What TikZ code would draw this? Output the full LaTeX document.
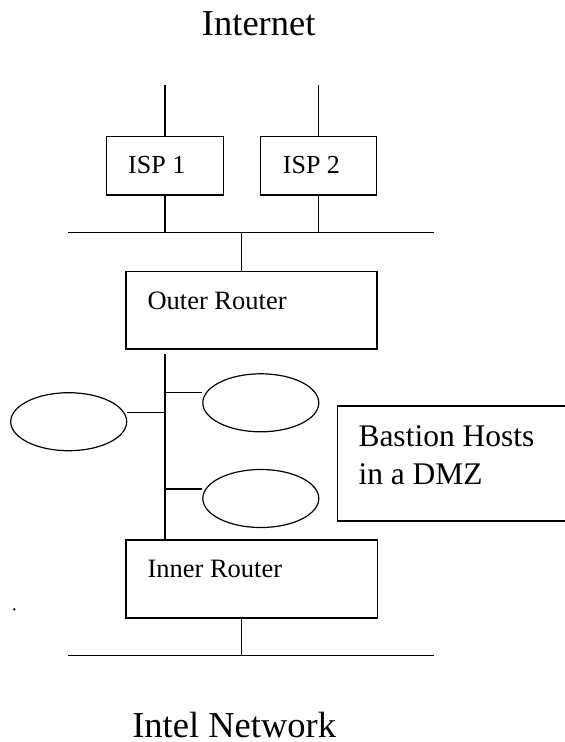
\documentclass[tikz,border=0pt]{standalone}
\usepackage{fontspec}
\setmainfont{Liberation Serif}
\usetikzlibrary{shapes.geometric}
\begin{document}
\begin{tikzpicture}[x=1pt,y=-1pt,
  wire/.style={line width=1.2pt},
  boxnode/.style={draw,line width=1.2pt,rectangle,inner sep=0pt},
  hostnode/.style={draw,line width=1.2pt,ellipse,inner sep=0pt,minimum width=116pt,minimum height=58pt},
  lbl/.style={anchor=base west,inner sep=0pt},
  title/.style={anchor=base,inner sep=0pt,text depth=0pt,font=\fontsize{36.5}{40}\selectfont}]
\useasboundingbox (0,0) rectangle (565,742);

% titles
\node[title] (internet) at (258.7,35) {Internet};
\node[title] (intel) at (234.2,737.5) {Intel Network};

% boxes
\node[boxnode,minimum width=116.6pt,minimum height=58.3pt] (isp1) at (165,165.85) {};
\node[boxnode,minimum width=116pt,minimum height=58.3pt] (isp2) at (318.7,165.85) {};
\node[boxnode,minimum width=251pt,minimum height=77.3pt] (outer) at (251.5,310.35) {};
\node[boxnode,minimum width=251.3pt,minimum height=78pt] (inner) at (251.6,579) {};
\node[boxnode,minimum width=229.7pt,minimum height=115pt] (bastion) at (452.15,463.5) {};

% labels
\node[lbl,font=\fontsize{26}{30}\selectfont] (l1) at (128,173) {ISP 1};
\node[lbl,font=\fontsize{26}{30}\selectfont] (l2) at (282.7,173) {ISP 2};
\node[lbl,font=\fontsize{26.5}{30}\selectfont] (lo) at (147.3,309.3) {Outer Router};
\node[lbl,font=\fontsize{26.5}{30}\selectfont] (li) at (147.3,577.3) {Inner Router};
\node[lbl,font=\fontsize{31.5}{36}\selectfont] (lb1) at (358.3,446.7) {Bastion Hosts};
\node[lbl,font=\fontsize{31.5}{36}\selectfont] (lb2) at (358.3,484) {in a DMZ};

% hosts
\node[hostnode] (e1) at (68.7,421.7) {};
\node[hostnode] (e2) at (260.8,402.8) {};
\node[hostnode] (e3) at (260.8,498.5) {};

% coordinates
\coordinate (t1) at (165,85);
\coordinate (t2) at (318.3,85);
\coordinate (busAL) at (68.3,232.7);
\coordinate (busAR) at (434,232.7);
\coordinate (oA) at (241.7,232.7);
\coordinate (sTop) at (165,354.3);
\coordinate (j1) at (165,412.3);
\coordinate (j2) at (165,392.7);
\coordinate (j3) at (165,489);
\coordinate (iB) at (241.7,618);
\coordinate (busBL) at (68.3,655.7);
\coordinate (busBR) at (434.3,655.7);

% wires
\draw[wire] (t1) -- (t1 |- isp1.north);
\draw[wire] (t2) -- (t2 |- isp2.north);
\draw[wire] (busAL) -- (busAR);
\draw[wire] (t1 |- isp1.south) -- (t1 |- busAL);
\draw[wire] (t2 |- isp2.south) -- (t2 |- busAL);
\draw[wire] (oA) -- (oA |- outer.north);
\draw[wire] (sTop) -- (sTop |- inner.north);
\draw[wire] (j1) -- (j1 -| e1.east);
\draw[wire] (j2) -- (j2 -| e2.west);
\draw[wire] (j3) -- (j3 -| e3.west);
\draw[wire] (iB) -- (iB |- busBL);
\draw[wire] (busBL) -- (busBR);

% stray dot
\fill (14.3,609.3) circle (1.3pt);
\end{tikzpicture}
\end{document}
